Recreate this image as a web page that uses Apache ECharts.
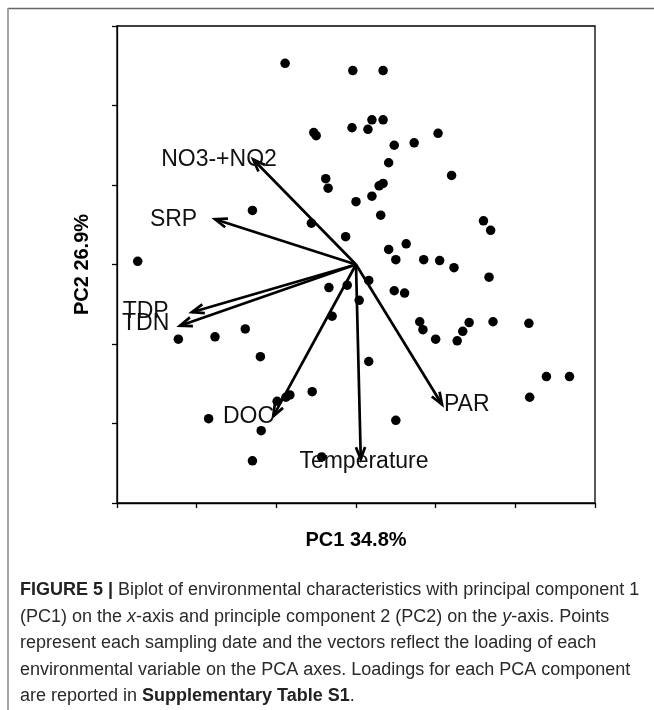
<!DOCTYPE html>
<html>
<head>
<meta charset="utf-8">
<script src="https://cdn.jsdelivr.net/npm/echarts@6/dist/echarts.min.js"></script>
<style>
html,body{margin:0;padding:0;background:#fff;}
#chart{width:654px;height:710px;}
</style>
</head>
<body>
<div id="chart"></div>
<script>
// Sample scores (PC1, PC2)
const pc1Scores = [-0.89,-0.04,0.34,-0.53,-0.50,-0.05,0.20,0.34,0.15,1.03,0.48,0.73,0.41,1.20,0.29,0.34,0.00,0.20,0.31,1.60,1.69,-0.13,0.41,0.63,0.50,0.85,1.05,1.23,-0.38,-0.35,-1.30,-0.56,-2.74,-0.34,-0.11,0.16,0.04,-0.30,-2.23,-1.77,-1.39,-1.20,-0.55,-0.83,-0.88,-0.99,-1.85,-1.19,-1.30,-0.43,1.67,0.48,0.61,0.80,0.84,1.00,1.42,1.34,1.27,1.72,2.17,0.16,2.39,2.68,2.18,0.50];
const pc2Scores = [2.53,2.44,2.44,1.66,1.62,1.72,1.82,1.82,1.70,1.65,1.50,1.53,1.28,1.12,0.99,1.02,0.79,0.86,0.62,0.55,0.43,0.35,0.19,0.26,0.06,0.06,0.05,-0.04,1.08,0.96,0.68,0.52,0.04,-0.29,-0.26,-0.20,-0.45,-0.65,-0.94,-0.91,-0.81,-1.16,-1.60,-1.64,-1.67,-1.72,-1.94,-2.09,-2.47,-2.42,-0.16,-0.33,-0.36,-0.72,-0.82,-0.94,-0.73,-0.84,-0.96,-0.72,-0.74,-1.22,-1.41,-1.41,-1.67,-1.96];

// Environmental vectors (loadings, scaled) and label anchor points
const vecNames = ['NO3-+NO2','SRP','TDP','TDN','DOC','Temperature','PAR'];
const vecX = [-1.29,-1.77,-2.06,-2.21,-1.04,0.06,1.08];
const vecY = [1.32,0.57,-0.60,-0.77,-1.91,-2.45,-1.76];
const labX = [-1.72,-2.29,-2.64,-2.64,-1.35,0.10,1.39];
const labY = [1.32,0.57,-0.59,-0.75,-1.92,-2.48,-1.76];

const axisMin = -3, axisMax = 3, axisStep = 1;
const xTitle = 'PC1 34.8%';
const yTitle = 'PC2 26.9%';

const scatterData = pc1Scores.map((v,i)=>[v,pc2Scores[i]]);
const vecData = vecNames.map((n,i)=>[vecX[i],vecY[i],labX[i],labY[i],n]);

const chart = echarts.init(document.getElementById('chart'), null, {renderer:'canvas'});

function renderArrow(params, api){
  const o = api.coord([0,0]);
  const t = api.coord([api.value(0), api.value(1)]);
  const l = api.coord([api.value(2), api.value(3)]);
  const name = vecNames[params.dataIndex];
  const ang = Math.atan2(t[1]-o[1], t[0]-o[0]);
  const hl = 13, ha = 0.36;
  const p1 = [t[0]-hl*Math.cos(ang-ha), t[1]-hl*Math.sin(ang-ha)];
  const p2 = [t[0]-hl*Math.cos(ang+ha), t[1]-hl*Math.sin(ang+ha)];
  const st = {stroke:'#000', lineWidth:2.7, fill:null};
  return {type:'group', children:[
    {type:'line', shape:{x1:o[0],y1:o[1],x2:t[0],y2:t[1]}, style:st},
    {type:'polyline', shape:{points:[p1,t,p2]}, style:st},
    {type:'text', x:l[0], y:l[1], style:{text:name, fill:'#111', font:'23px "Liberation Sans", Arial, sans-serif', align:'center', verticalAlign:'middle'}}
  ]};
}

const captionFont = '"Liberation Sans Narrow", "Liberation Sans", Arial, sans-serif';
const capLines = [
  [{b:'FIGURE 5 | '},{r:'Biplot of environmental characteristics with principal component 1'}],
  [{r:'(PC1) on the '},{i:'x'},{r:'-axis and principle component 2 (PC2) on the '},{i:'y'},{r:'-axis. Points'}],
  [{r:'represent each sampling date and the vectors reflect the loading of each'}],
  [{r:'environmental variable on the PCA axes. Loadings for each PCA component'}],
  [{r:'are reported in '},{b:'Supplementary Table S1'},{r:'.'}]
];
const capY = [592,619,645,672,698];
const capGraphics = capLines.map((segs,k)=>{
  const txt = segs.map(s=>{
    if(s.b!==undefined) return '{b|'+s.b+'}';
    if(s.i!==undefined) return '{i|'+s.i+'}';
    return '{r|'+s.r+'}';
  }).join('');
  return {type:'text', left:20, top:capY[k]-11, style:{
    text:txt, fill:'#222', font:'18px '+captionFont,
    rich:{
      r:{fontSize:18, fontFamily:captionFont, fill:'#2a2a2a'},
      b:{fontSize:18, fontFamily:captionFont, fontWeight:'bold', fill:'#222'},
      i:{fontSize:18, fontFamily:captionFont, fontStyle:'italic', fill:'#2a2a2a'}
    }
  }};
});

chart.setOption({
  animation:false,
  backgroundColor:'#fff',
  grid:{left:117, top:26, width:478, height:477, show:true, borderColor:'#000', borderWidth:1.3, backgroundColor:'transparent'},
  xAxis:{type:'value', min:axisMin, max:axisMax, interval:axisStep,
    axisLine:{show:true, onZero:false, lineStyle:{color:'#000', width:1.3}},
    axisTick:{show:true, inside:false, length:5, lineStyle:{color:'#000', width:1.3}},
    axisLabel:{show:false}, splitLine:{show:false},
    name:xTitle, nameLocation:'middle', nameGap:27,
    nameTextStyle:{fontSize:20, fontWeight:'bold', color:'#000', fontFamily:'"Liberation Sans", Arial, sans-serif'}},
  yAxis:{type:'value', min:axisMin, max:axisMax, interval:axisStep,
    axisLine:{show:true, onZero:false, lineStyle:{color:'#000', width:1.3}},
    axisTick:{show:true, inside:false, length:5, lineStyle:{color:'#000', width:1.3}},
    axisLabel:{show:false}, splitLine:{show:false},
    name:yTitle, nameLocation:'middle', nameGap:25,
    nameTextStyle:{fontSize:20, fontWeight:'bold', color:'#000', fontFamily:'"Liberation Sans", Arial, sans-serif'}},
  graphic:[
    {type:'line', shape:{x1:8,y1:8.5,x2:654,y2:8.5}, style:{stroke:'#666', lineWidth:1.5}},
    {type:'line', shape:{x1:8,y1:8,x2:8,y2:710}, style:{stroke:'#888', lineWidth:1.5}}
  ].concat(capGraphics),
  series:[
    {type:'scatter', data:scatterData, symbol:'circle', symbolSize:9.5, itemStyle:{color:'#000', opacity:1}, z:3},
    {type:'custom', data:vecData, renderItem:renderArrow, z:4}
  ]
});
</script>
</body>
</html>
